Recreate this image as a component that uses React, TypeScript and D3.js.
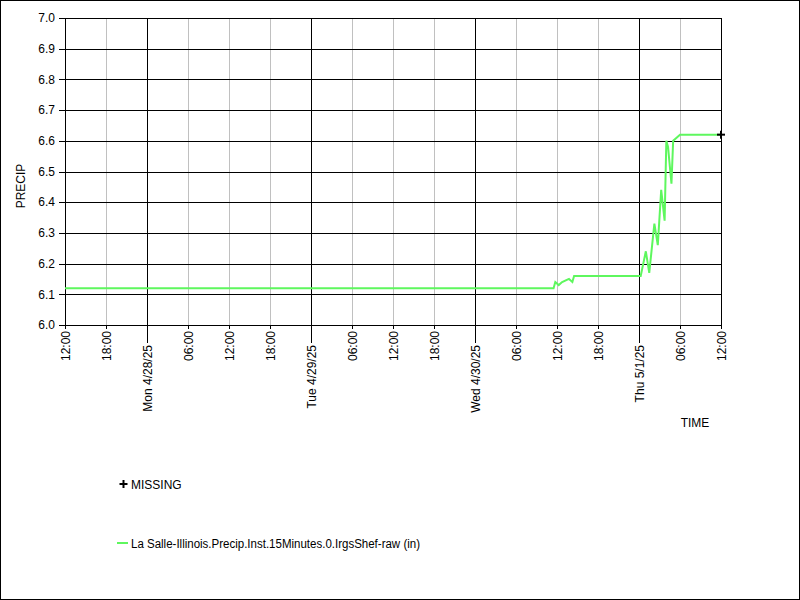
import React from "react";
import * as d3 from "d3";

const times = [
  "2025-04-27 12:00",
  "2025-04-30 11:30",
  "2025-04-30 11:45",
  "2025-04-30 12:15",
  "2025-04-30 12:45",
  "2025-04-30 13:45",
  "2025-04-30 14:15",
  "2025-04-30 14:30",
  "2025-05-01 00:15",
  "2025-05-01 01:00",
  "2025-05-01 01:30",
  "2025-05-01 02:15",
  "2025-05-01 02:45",
  "2025-05-01 03:15",
  "2025-05-01 03:45",
  "2025-05-01 04:00",
  "2025-05-01 04:15",
  "2025-05-01 04:45",
  "2025-05-01 05:00",
  "2025-05-01 05:30",
  "2025-05-01 06:00",
  "2025-05-01 12:00",
];
const precip = [
  6.12, 6.12, 6.14, 6.13, 6.14, 6.15, 6.14, 6.16, 6.16, 6.24, 6.17, 6.33, 6.26,
  6.44, 6.34, 6.6, 6.58, 6.46, 6.6, 6.61, 6.62, 6.62,
];
const missingTimes = ["2025-05-01 12:00"];
const missingValues = [6.62];
const yTicks = [6.0, 6.1, 6.2, 6.3, 6.4, 6.5, 6.6, 6.7, 6.8, 6.9, 7.0];
const xDomain = ["2025-04-27 12:00", "2025-05-01 12:00"];
const seriesName = "La Salle-Illinois.Precip.Inst.15Minutes.0.IrgsShef-raw (in)";

const FONT = "'Liberation Sans', Arial, sans-serif";
const GREEN = "#5ef75e";

export default function App() {
  const W = 800,
    H = 600;
  const left = 65,
    right = 721,
    top = 18,
    bottom = 325;
  const parse = d3.timeParse("%Y-%m-%d %H:%M");
  const d0 = parse(xDomain[0]) as Date;
  const d1 = parse(xDomain[1]) as Date;
  const x = d3.scaleTime().domain([d0, d1]).range([left, right]);
  const y = d3.scaleLinear().domain([6, 7]).range([bottom, top]);
  const xt = d3.timeHour.every(6)!.range(d0, new Date(+d1 + 1));
  const isMid = (d: Date) => d.getHours() === 0;
  const fmtDay = d3.timeFormat("%a %-m/%-d/%y");
  const fmtHr = d3.timeFormat("%H:%M");

  const data = times.map((t, i) => ({ t: parse(t) as Date, v: precip[i] }));
  const line = d3
    .line<{ t: Date; v: number }>()
    .x((d) => x(d.t))
    .y((d) => y(d.v));

  const plus = (cx: number, cy: number, s: number, k: string) => (
    <g key={k} stroke="#000" strokeWidth={2}>
      <line x1={cx - s} x2={cx + s} y1={cy} y2={cy} />
      <line x1={cx} x2={cx} y1={cy - s} y2={cy + s} />
    </g>
  );

  return (
    <svg
      width={W}
      height={H}
      style={{ position: "absolute", left: 0, top: 0, background: "#fff" }}
      fontFamily={FONT}
      fontSize={12}
    >
      <rect x={0.5} y={0.5} width={W - 1} height={H - 1} fill="#fff" stroke="#000" />
      {xt.map((d, i) => (
        <line
          key={"vg" + i}
          x1={Math.round(x(d)) + 0.5}
          x2={Math.round(x(d)) + 0.5}
          y1={top}
          y2={bottom}
          stroke={isMid(d) ? "#000" : "#c0c0c0"}
        />
      ))}
      {yTicks.map((v, i) => (
        <line
          key={"hg" + i}
          x1={left - 6}
          x2={right}
          y1={Math.round(y(v)) + 0.5}
          y2={Math.round(y(v)) + 0.5}
          stroke="#000"
        />
      ))}
      <rect
        x={left + 0.5}
        y={top + 0.5}
        width={right - left}
        height={bottom - top}
        fill="none"
        stroke="#000"
      />
      {yTicks.map((v, i) => (
        <text key={"yl" + i} x={55} y={y(v)} dy="0.35em" textAnchor="end" fill="#000">
          {v.toFixed(1)}
        </text>
      ))}
      {xt.map((d, i) => {
        const px = Math.round(x(d)) + 0.5;
        const mid = isMid(d);
        const len = mid ? 18 : 4;
        return (
          <g key={"xt" + i}>
            <line x1={px} x2={px} y1={bottom} y2={bottom + len} stroke="#000" />
            <text
              transform={`translate(${px},${bottom + len + 2}) rotate(-90)`}
              textAnchor="end"
              dy="0.35em"
              fill="#000"
            >
              {mid ? fmtDay(d) : fmtHr(d)}
            </text>
          </g>
        );
      })}
      <text transform="translate(25,186) rotate(-90)" textAnchor="middle" fill="#000">
        PRECIP
      </text>
      <text x={695} y={427} textAnchor="middle" fill="#000">
        TIME
      </text>
      <path d={line(data) || ""} fill="none" stroke={GREEN} strokeWidth={2} />
      {missingTimes.map((t, i) => plus(x(parse(t) as Date), y(missingValues[i]), 4, "m" + i))}
      {plus(123.5, 484, 4, "lg")}
      <text x={131} y={489} fill="#000">
        MISSING
      </text>
      <line x1={117} x2={128} y1={543} y2={543} stroke={GREEN} strokeWidth={2} />
      <text x={131} y={548} fill="#000" textLength={289} lengthAdjust="spacingAndGlyphs">
        {seriesName}
      </text>
    </svg>
  );
}
